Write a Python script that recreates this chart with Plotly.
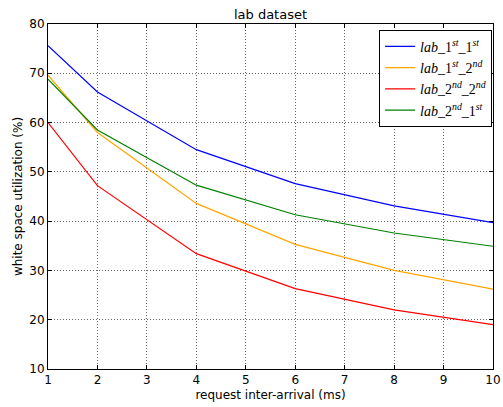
import plotly.graph_objects as go

x_vals = [1, 2, 4, 6, 8, 10]
blue_11 = [75.6, 66.2, 54.5, 47.6, 43.1, 39.7]
orange_12 = [69.6, 58.0, 43.6, 35.3, 30.0, 26.2]
red_22 = [60.0, 47.2, 33.4, 26.3, 22.0, 19.0]
green_21 = [68.8, 58.5, 47.3, 41.3, 37.6, 34.9]

names = [
    "<i>lab</i>_1<sup><i>st</i></sup>_1<sup><i>st</i></sup>",
    "<i>lab</i>_1<sup><i>st</i></sup>_2<sup><i>nd</i></sup>",
    "<i>lab</i>_2<sup><i>nd</i></sup>_2<sup><i>nd</i></sup>",
    "<i>lab</i>_2<sup><i>nd</i></sup>_1<sup><i>st</i></sup>",
]
series = [blue_11, orange_12, red_22, green_21]
colors = ["#0000ff", "#ffa500", "#ff0000", "#008000"]

x_ticks = list(range(1, 11))
y_ticks = [10, 20, 30, 40, 50, 60, 70, 80]

fig = go.Figure()
for name, ys, c in zip(names, series, colors):
    fig.add_trace(go.Scatter(x=x_vals, y=ys, mode="lines", name=name,
                             line=dict(color=c, width=1.2)))

axis_common = dict(
    showline=True, linecolor="black", linewidth=1, mirror="ticks",
    ticks="inside", ticklen=4, tickcolor="black", automargin=False,
    showgrid=True, gridcolor="rgba(0,0,0,0.6)", griddash="1px,2px", gridwidth=1,
    zeroline=False, tickfont=dict(family="DejaVu Sans", size=12, color="black"),
)

fig.update_layout(
    width=503, height=407,
    margin=dict(l=48, r=10, t=24, b=38, autoexpand=False),
    paper_bgcolor="white", plot_bgcolor="white",
    title=dict(text="lab dataset", x=0.5, xanchor="center", xref="paper",
               y=1 - 14 / 407, yref="container", yanchor="middle",
               font=dict(family="DejaVu Sans", size=13, color="black")),
    xaxis=dict(range=[1, 10], tickvals=x_ticks,
               title=dict(text="request inter-arrival (ms)", standoff=4,
                          font=dict(family="DejaVu Sans", size=12, color="black")),
               **axis_common),
    yaxis=dict(range=[10, 80], tickvals=y_ticks,
               title=dict(text="white space utilization (%)", standoff=4,
                          font=dict(family="DejaVu Sans", size=12, color="black")),
               **axis_common),
    legend=dict(x=0.998, y=0.983, xanchor="right", yanchor="top",
                bordercolor="black", borderwidth=1, bgcolor="white",
                font=dict(family="Liberation Serif", size=14, color="black"),
                tracegroupgap=0),
    showlegend=True,
)

fig.write_html(
    "out.html",
    config={"displayModeBar": False},
    post_script="document.body.style.margin='0';document.body.style.overflow='hidden';",
)
